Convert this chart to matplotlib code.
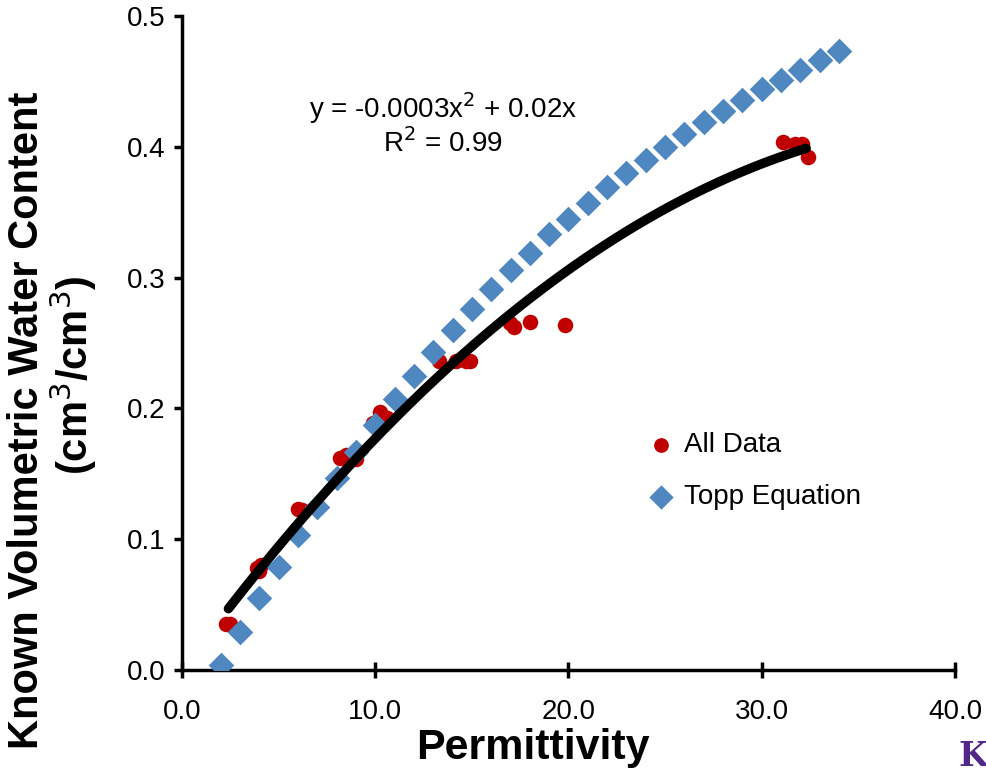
import numpy as np
import matplotlib
matplotlib.use("Agg")
import matplotlib.pyplot as plt
from matplotlib.ticker import FormatStrFormatter

# ---- data ----
all_data_x = [2.3, 2.5, 3.9, 4.1, 4.0, 6.0, 6.2, 8.2, 8.5, 9.0, 9.9, 10.25, 10.6,
              13.3, 14.2, 14.7, 14.9, 16.95, 17.2, 18.0, 19.8, 31.1, 31.7, 32.1, 32.4]
all_data_y = [0.035, 0.035, 0.078, 0.080, 0.076, 0.123, 0.122, 0.162, 0.164, 0.161,
              0.189, 0.197, 0.193, 0.236, 0.236, 0.236, 0.236, 0.265, 0.262, 0.266,
              0.264, 0.404, 0.402, 0.402, 0.392]

topp_x = list(range(2, 35))
topp_y = [0.004, 0.029, 0.055, 0.079, 0.103, 0.125, 0.147, 0.167, 0.187, 0.207,
          0.225, 0.243, 0.260, 0.276, 0.291, 0.306, 0.319, 0.333, 0.345, 0.357,
          0.369, 0.380, 0.390, 0.400, 0.410, 0.419, 0.427, 0.436, 0.444, 0.451,
          0.459, 0.466, 0.473]

trend_coef = [-0.00024, 0.0201, 0.0]   # quadratic trendline (a, b, c)
trend_range = [2.4, 32.3]

x_ticks = [0, 10, 20, 30, 40]
y_ticks = [0.0, 0.1, 0.2, 0.3, 0.4, 0.5]

FONT = ['Liberation Sans', 'DejaVu Sans']
plt.rcParams['font.family'] = FONT

W, H = 987, 773
fig = plt.figure(figsize=(W/100, H/100), dpi=100)
ax = fig.add_axes([182/W, 1-670/H, (955-182)/W, (670-16)/H])

red = '#C00000'
blue = '#4F87C1'

ax.scatter(all_data_x, all_data_y, s=125, color=red, marker='o', linewidths=0,
           zorder=2, label='All Data')
ax.scatter(topp_x, topp_y, s=170, color=blue, marker='D', linewidths=0,
           zorder=3, label='Topp Equation')

xx = np.linspace(trend_range[0], trend_range[1], 300)
ax.plot(xx, np.polyval(trend_coef, xx), color='black', lw=6.8,
        solid_capstyle='round', zorder=4)

ax.set_xlim(0, 40)
ax.set_ylim(0, 0.5)
ax.set_xticks(x_ticks)
ax.set_yticks(y_ticks)
ax.xaxis.set_major_formatter(FormatStrFormatter('%.1f'))
ax.yaxis.set_major_formatter(FormatStrFormatter('%.1f'))

for s in ['top', 'right']:
    ax.spines[s].set_visible(False)
for s in ['left', 'bottom']:
    ax.spines[s].set_linewidth(2.5)
ax.tick_params(axis='x', direction='inout', length=12, width=2.5, labelsize=20, pad=15)
ax.tick_params(axis='y', direction='out', length=6, width=2.5, labelsize=20, pad=6)

# axis titles
fig.text(533/W, 1-748/H, 'Permittivity', fontsize=31, fontweight='bold',
         ha='center', va='center')
fig.text(27/W, 1-420/H, 'Known Volumetric Water Content', fontsize=30,
         fontweight='bold', rotation=90, ha='center', va='center')
fig.text(73/W, 1-375/H, '(cm$^3$/cm$^3$)', fontsize=30,
         fontweight='bold', rotation=90, ha='center', va='center')

ax.text(13.5, 0.4297, 'y = -0.0003x$^2$ + 0.02x', fontsize=20, ha='center', va='center')
ax.text(13.5, 0.403, 'R$^2$ = 0.99', fontsize=20, ha='center', va='center')

leg = ax.legend(loc='upper left', bbox_to_anchor=((653-182)/773, (670-432)/654),
                frameon=False, fontsize=20, borderpad=0, borderaxespad=0,
                handlelength=0.6, handletextpad=0.5, labelspacing=0.95,
                markerscale=0.95)

fig.text(958/W, 1-757/H, 'K', fontsize=24, fontweight='bold', color='#512888',
         family='DejaVu Serif', ha='left', va='center')

fig.savefig('out.png', dpi=100)
